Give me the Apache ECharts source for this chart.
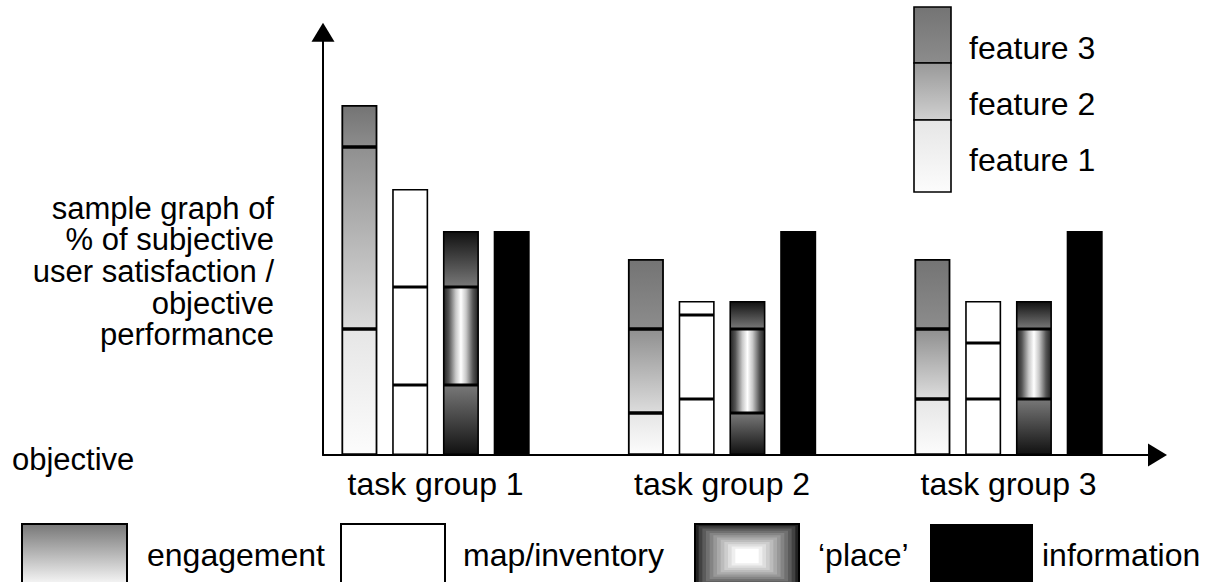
<!DOCTYPE html>
<html>
<head>
<meta charset="utf-8">
<script src="https://cdn.jsdelivr.net/npm/echarts@6/dist/echarts.min.js"></script>
<style>
html,body{margin:0;padding:0;background:#fff;}
#chart{width:1229px;height:582px;}
</style>
</head>
<body>
<div id="chart"></div>
<script>
// ---- data ----
const categories = ['task group 1', 'task group 2', 'task group 3'];
// stacked segments, bottom (feature 1) to top (feature 3)
const engagementF1 = [9, 3, 4];
const engagementF2 = [13, 6, 5];
const engagementF3 = [3, 5, 5];
const mapF1 = [5, 4, 4];
const mapF2 = [7, 6, 4];
const mapF3 = [7, 1, 3];
const placeF1 = [5, 3, 4];
const placeF2 = [7, 6, 5];
const placeF3 = [4, 2, 2];
const information = [16, 16, 16];

const seriesNames = ['engagement', 'map/inventory', '\u2018place\u2019', 'information'];
const featureLabels = ['feature 3', 'feature 2', 'feature 1'];
const yAxisText = ['sample graph of', '% of subjective', 'user satisfaction /', 'objective', 'performance'];
const xAxisText = 'objective';

// ---- styles ----
const FONT = '"Liberation Sans", Arial, sans-serif';
const FS = 32;
const Y_MAX = 30.2;

function vgrad(c0, c1) {
  return {type: 'linear', x: 0, y: 0, x2: 0, y2: 1,
    colorStops: [{offset: 0, color: c0}, {offset: 1, color: c1}]};
}
function hgradPlace() {
  return {type: 'linear', x: 0, y: 0, x2: 1, y2: 0,
    colorStops: [
      {offset: 0, color: '#222'}, {offset: 0.15, color: '#555'},
      {offset: 0.35, color: '#c8c8c8'}, {offset: 0.5, color: '#fff'},
      {offset: 0.65, color: '#c8c8c8'}, {offset: 0.85, color: '#555'},
      {offset: 1, color: '#222'}]};
}

const engStyles = [
  vgrad('#e6e6e6', '#fcfcfc'),
  vgrad('#909090', '#dcdcdc'),
  vgrad('#747474', '#8c8c8c')
];
const placeStyles = [
  vgrad('#777777', '#111111'),
  hgradPlace(),
  vgrad('#111111', '#777777')
];

function bar(name, stack, data, color, borderWidth) {
  return {
    type: 'bar', name: name, stack: stack, data: data,
    xAxisIndex: 1, yAxisIndex: 1,
    barWidth: 36, barGap: '41%',
    silent: true,
    itemStyle: {color: color, borderColor: '#000', borderWidth: borderWidth}
  };
}

const series = [
  bar(seriesNames[0], 'eng', engagementF1, engStyles[0], 1.8),
  bar(seriesNames[0], 'eng', engagementF2, engStyles[1], 1.8),
  bar(seriesNames[0], 'eng', engagementF3, engStyles[2], 1.8),
  bar(seriesNames[1], 'map', mapF1, '#fff', 1.6),
  bar(seriesNames[1], 'map', mapF2, '#fff', 1.6),
  bar(seriesNames[1], 'map', mapF3, '#fff', 1.6),
  bar(seriesNames[2], 'place', placeF1, placeStyles[0], 1.6),
  bar(seriesNames[2], 'place', placeF2, placeStyles[1], 1.6),
  bar(seriesNames[2], 'place', placeF3, placeStyles[2], 1.6),
  bar(seriesNames[3], 'info', information, '#000', 0)
];

// ---- legend / annotation graphics ----
const graphics = [];
// left description, one text per line
yAxisText.forEach(function (line, i) {
  graphics.push({type: 'text', x: 274, y: 208 + i * 31.7, silent: true,
    style: {text: line, font: '31px ' + FONT, fill: '#000',
      align: 'right', verticalAlign: 'middle', lineHeight: 31}});
});
graphics.push({type: 'text', x: 12, y: 459, silent: true,
  style: {text: xAxisText, font: '31px ' + FONT, fill: '#000',
    align: 'left', verticalAlign: 'middle'}});

// top-right feature legend
const featBoxes = [[7, 63, engStyles[2]], [63, 120, vgrad('#999999', '#d0d0d0')], [120, 192, engStyles[0]]];
featBoxes.forEach(function (b, i) {
  graphics.push({type: 'rect', silent: true, shape: {x: 914, y: b[0], width: 37, height: b[1] - b[0]},
    style: {fill: b[2], stroke: '#000', lineWidth: 1.6}});
  graphics.push({type: 'text', x: 969, y: [48, 104, 160][i], silent: true,
    style: {text: featureLabels[i], font: FS + 'px ' + FONT, fill: '#000', verticalAlign: 'middle'}});
});

// bottom legend
const LB_Y = 524, LB_H = 64;
graphics.push({type: 'rect', silent: true, shape: {x: 22, y: LB_Y, width: 105, height: LB_H},
  style: {fill: vgrad('#777777', '#ffffff'), stroke: '#000', lineWidth: 2}});
graphics.push({type: 'rect', silent: true, shape: {x: 341, y: LB_Y, width: 104, height: LB_H},
  style: {fill: '#fff', stroke: '#000', lineWidth: 2}});
// 'place' swatch: stepped rectangular gradient
(function () {
  const x0 = 695, w = 104, h = LB_H, n = 12;
  for (let k = 0; k < n; k++) {
    const g = Math.round(0x22 + (0xff - 0x22) * Math.pow(k / (n - 1), 0.8));
    const hex = '#' + [g, g, g].map(function (v) { return v.toString(16).padStart(2, '0'); }).join('');
    const ix = k * (w / 2 - 8) / n, iy = k * (h / 2 - 5) / n;
    graphics.push({type: 'rect', silent: true,
      shape: {x: x0 + ix, y: LB_Y + iy, width: w - 2 * ix, height: h - 2 * iy},
      style: {fill: hex, stroke: k === 0 ? '#000' : null, lineWidth: 2}});
  }
})();
graphics.push({type: 'rect', silent: true, shape: {x: 930, y: LB_Y, width: 103, height: LB_H},
  style: {fill: '#000'}});
const legendTextX = [147, 463, 818, 1042];
seriesNames.forEach(function (n, i) {
  graphics.push({type: 'text', x: legendTextX[i], y: 555, silent: true,
    style: {text: n, font: FS + 'px ' + FONT, fill: '#000', verticalAlign: 'middle'}});
});

const chart = echarts.init(document.getElementById('chart'), null, {renderer: 'svg'});
chart.setOption({
  animation: false,
  backgroundColor: '#fff',
  grid: [
    {left: 323, right: 71.5, top: 455 - Y_MAX * 14, bottom: 127},
    {left: 292.3, right: 77.2, top: 455 - Y_MAX * 14, bottom: 127}
  ],
  xAxis: [
    {type: 'value', gridIndex: 0, min: 0, max: 1,
      axisLine: {show: true, symbol: ['none', 'triangle'], symbolSize: [23, 19],
        lineStyle: {color: '#000', width: 2}},
      axisTick: {show: false}, axisLabel: {show: false}, splitLine: {show: false}},
    {type: 'category', gridIndex: 1, data: categories,
      axisLine: {show: false}, axisTick: {show: false}, splitLine: {show: false},
      axisLabel: {show: true, margin: 13, color: '#000', fontSize: FS, fontFamily: FONT, lineHeight: 32}}
  ],
  yAxis: [
    {type: 'value', gridIndex: 0, min: 0, max: Y_MAX,
      axisLine: {show: true, symbol: ['none', 'triangle'], symbolSize: [23, 19],
        lineStyle: {color: '#000', width: 2}},
      axisTick: {show: false}, axisLabel: {show: false}, splitLine: {show: false}},
    {type: 'value', gridIndex: 1, min: 0, max: Y_MAX, show: false,
      axisLine: {show: false}, axisTick: {show: false}, axisLabel: {show: false}, splitLine: {show: false}}
  ],
  series: series,
  graphic: graphics
});
</script>
</body>
</html>
